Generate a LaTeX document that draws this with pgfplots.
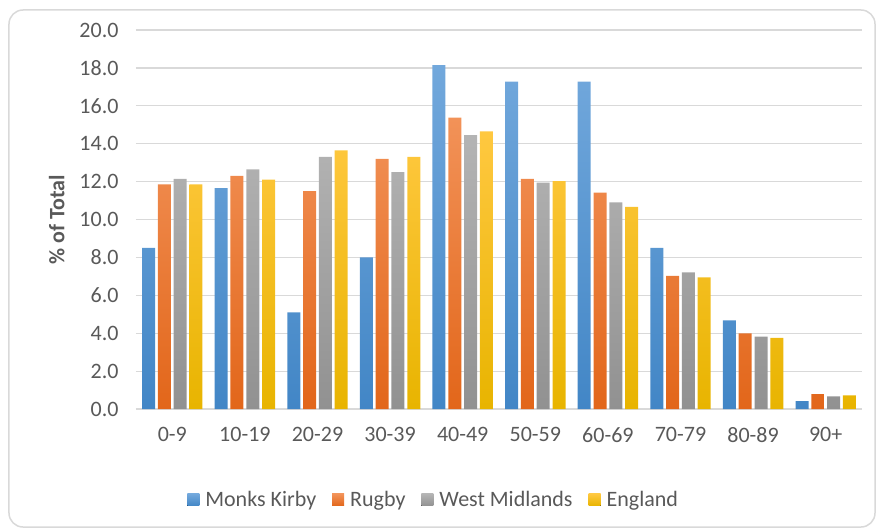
\documentclass[border=0pt]{standalone}
\usepackage{pgfplots}
\pgfplotsset{compat=1.18}
\usepackage{pgfplotstable}
\usepackage{fontspec}
\setmainfont{Carlito}

\definecolor{txt}{HTML}{595959}
\definecolor{gridc}{HTML}{D9D9D9}
\definecolor{mkTop}{HTML}{72A8DC}
\definecolor{mkBot}{HTML}{4286C6}
\definecolor{rgTop}{HTML}{F29258}
\definecolor{rgBot}{HTML}{E2661A}
\definecolor{wmTop}{HTML}{B4B4B4}
\definecolor{wmBot}{HTML}{919191}
\definecolor{enTop}{HTML}{FFC840}
\definecolor{enBot}{HTML}{E8B400}

% age band, % of total
\pgfplotstableread{
x  mk     rugby  wm     eng
0  8.5    11.85  12.15  11.85
1  11.65  12.3   12.65  12.1
2  5.1    11.5   13.3   13.65
3  8.0    13.2   12.5   13.3
4  18.15  15.37  14.45  14.65
5  17.27  12.15  11.95  12.03
6  17.27  11.42  10.9   10.67
7  8.5    7.02   7.21   6.95
8  4.68   3.99   3.82   3.76
9  0.42   0.79   0.67   0.72
}\agedata

\begin{document}
\begin{tikzpicture}[font=\fontsize{22}{26}\selectfont, text=txt]
\useasboundingbox (-136pt,-122pt) rectangle (740pt,409pt);
\draw[gridc, line width=1.5pt, rounded corners=14pt] (-127pt,-118pt) rectangle (739pt,399pt);
\begin{axis}[
    at={(0pt,0pt)}, anchor=south west,
    scale only axis,
    width=726pt, height=379pt,
    ybar=2.8pt, bar width=13pt,
    xmin=-0.5, xmax=9.5,
    ymin=0, ymax=20,
    xtick=data,
    xticklabels={0-9,10-19,20-29,30-39,40-49,50-59,60-69,70-79,80-89,90+},
    ytick={0,2,...,20},
    /pgf/number format/fixed,
    /pgf/number format/fixed zerofill,
    /pgf/number format/precision=1,
    /pgf/number format/assume math mode=true,
    yticklabel style={xshift=-14pt, text=txt},
    xticklabel style={yshift=-15pt, text=txt},
    major tick length=0pt,
    axis lines*=left,
    axis line style={-},
    y axis line style={draw=none},
    x axis line style={draw=gridc, line width=1.5pt},
    ymajorgrids,
    grid style={draw=gridc, line width=1.2pt},
    ylabel={\textbf{\% of Total}},
    ylabel style={at={(axis description cs:-0.109,0.5)}, anchor=center, text=txt},
    legend style={at={(axis description cs:0.41,-0.24)}, anchor=center, draw=none, fill=none,
        legend columns=4, /tikz/every even column/.append style={column sep=14pt},
        text=txt},
    legend image code/.code={\fill[#1] (0pt,-6pt) rectangle (12pt,6pt); \path (16pt,0pt);},
]
\addplot[draw=none, top color=mkTop, bottom color=mkBot] table[x=x, y=mk] {\agedata};
\addlegendentry{Monks Kirby}
\addplot[draw=none, top color=rgTop, bottom color=rgBot] table[x=x, y=rugby] {\agedata};
\addlegendentry{Rugby}
\addplot[draw=none, top color=wmTop, bottom color=wmBot] table[x=x, y=wm] {\agedata};
\addlegendentry{West Midlands}
\addplot[draw=none, top color=enTop, bottom color=enBot] table[x=x, y=eng] {\agedata};
\addlegendentry{England}
\end{axis}
\end{tikzpicture}
\end{document}
